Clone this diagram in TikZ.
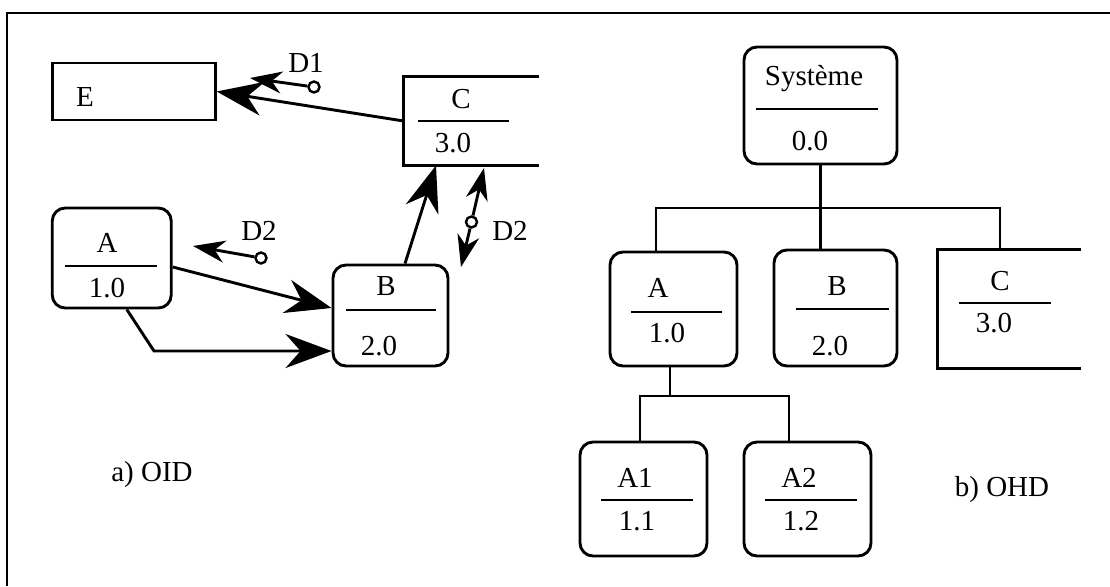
\documentclass[tikz,border=0pt]{standalone}
\usepackage{fontspec}
\setmainfont{Liberation Serif}
\usetikzlibrary{arrows.meta,calc}
\begin{document}
\begin{tikzpicture}[x=1pt,y=-1pt,line width=2.9pt,
  rbox/.style={draw,rounded corners=13pt,inner sep=0pt},
  sbox/.style={draw,inner sep=0pt},
  ghost/.style={inner sep=0pt},
  lbl/.style={font=\fontsize{29}{33}\selectfont,inner sep=0pt},
  arr/.style={-{Stealth[length=46pt,width=34pt,inset=15pt]}},
  sarr/.style={-{Stealth[length=32pt,width=22pt,inset=10pt]}},
  port/.style={draw,circle,inner sep=0pt,minimum size=11pt,line width=2.4pt}]
\useasboundingbox (0,0) rectangle (1110,586);
% frame
\draw[line width=2.2pt] (7,586) -- (7,13) -- (1110,13);

% ---------- a) OID ----------
\node[sbox,minimum width=163pt,minimum height=57pt] (E) at (133.75,91.5) {};
\node[lbl] (Et) at (85,97) {E};

\node[ghost,minimum width=133pt,minimum height=86pt] (C) at (471.5,121) {};
\draw (C.north east) -- (C.north west) -- (C.south west) -- (C.south east);
\draw (418,121) -- (509,121);
\node[lbl] (Ct) at (461,99) {C};
\node[lbl] (Cn) at (453,143) {3.0};

\node[rbox,minimum width=119pt,minimum height=100pt] (A) at (111.75,258) {};
\draw (65,266) -- (157,266);
\node[lbl] (At) at (107,243) {A};
\node[lbl] (An) at (107,288) {1.0};

\node[rbox,minimum width=115pt,minimum height=101pt] (B) at (390.5,315.5) {};
\draw (346,310) -- (436,310);
\node[lbl] (Bt) at (386,286) {B};
\node[lbl] (Bn) at (379,346) {2.0};

% flows
\draw[arr] (C.west) -- (E.east);
\draw[arr] ([xshift=14.5pt]B.north) -- ([xshift=-35.5pt]C.south);
\draw[arr] ([yshift=-9pt]A.east) -- ([yshift=7.5pt]B.west);
\coordinate (bend) at (154,351);
\draw[arr] ([xshift=15pt]A.south) -- (bend) -- ([yshift=-35.5pt]B.west);

% data couples
\node[port] (d1) at (314,87) {};
\coordinate (d1tip) at (250,78);
\draw[sarr] (d1) -- (d1tip);
\node[lbl] (D1t) at (306,63) {D1};

\node[port] (d2) at (261,258) {};
\coordinate (d2tip) at (193,246);
\draw[sarr] (d2) -- (d2tip);
\node[lbl] (D2t) at (259,231) {D2};

\node[port] (d3) at (471.5,222) {};
\coordinate (d3up) at (484,168);
\coordinate (d3dn) at (461,267);
\draw[sarr] (d3) -- (d3up);
\draw[sarr] (d3) -- (d3dn);
\node[lbl] (D3t) at (510,231) {D2};

\node[lbl] (oid) at (152,475) {a) OID};

% ---------- b) OHD ----------
\node[rbox,minimum width=153pt,minimum height=117pt] (S) at (820.5,105.5) {};
\draw (756,109) -- (878,109);
\node[lbl] (St) at (814,79) {Système};
\node[lbl] (Sn) at (810,141) {0.0};

\node[rbox,minimum width=127pt,minimum height=114pt] (RA) at (673.5,309) {};
\draw (631,312) -- (722,312);
\node[lbl] (RAt) at (658,288) {A};
\node[lbl] (RAn) at (667,333) {1.0};

\node[rbox,minimum width=123pt,minimum height=116pt] (RB) at (835.5,308) {};
\draw (796,309) -- (889,309);
\node[lbl] (RBt) at (837,286) {B};
\node[lbl] (RBn) at (830,346) {2.0};

\node[ghost,minimum width=141pt,minimum height=116pt] (RC) at (1009.5,309) {};
\draw (RC.north east) -- (RC.north west) -- (RC.south west) -- (RC.south east);
\draw (959,303) -- (1051,303);
\node[lbl] (RCt) at (1000,281) {C};
\node[lbl] (RCn) at (994,323) {3.0};

\node[rbox,minimum width=127pt,minimum height=114pt] (A1) at (643.5,499) {};
\draw (601,500) -- (693,500);
\node[lbl] (A1t) at (635,478) {A1};
\node[lbl] (A1n) at (637,521) {1.1};

\node[rbox,minimum width=127pt,minimum height=114pt] (A2) at (807.5,499) {};
\draw (765,500) -- (857,500);
\node[lbl] (A2t) at (799,478) {A2};
\node[lbl] (A2n) at (801,521) {1.2};

\node[lbl] (ohd) at (1002,490) {b) OHD};

% hierarchy connectors
\coordinate (busL) at (656,208);
\coordinate (busR) at (1000,208);
\draw (S.south) -- (S.south |- RB.north);
\draw (busL |- RA.north) -- (busL) -- (busR) -- (busR |- RC.north);
\coordinate (sub) at (670,396);
\coordinate (subL) at (640,396);
\coordinate (subR) at (789,396);
\draw (sub |- RA.south) -- (sub);
\draw (subL |- A1.north) -- (subL) -- (subR) -- (subR |- A2.north);
\end{tikzpicture}
\end{document}
